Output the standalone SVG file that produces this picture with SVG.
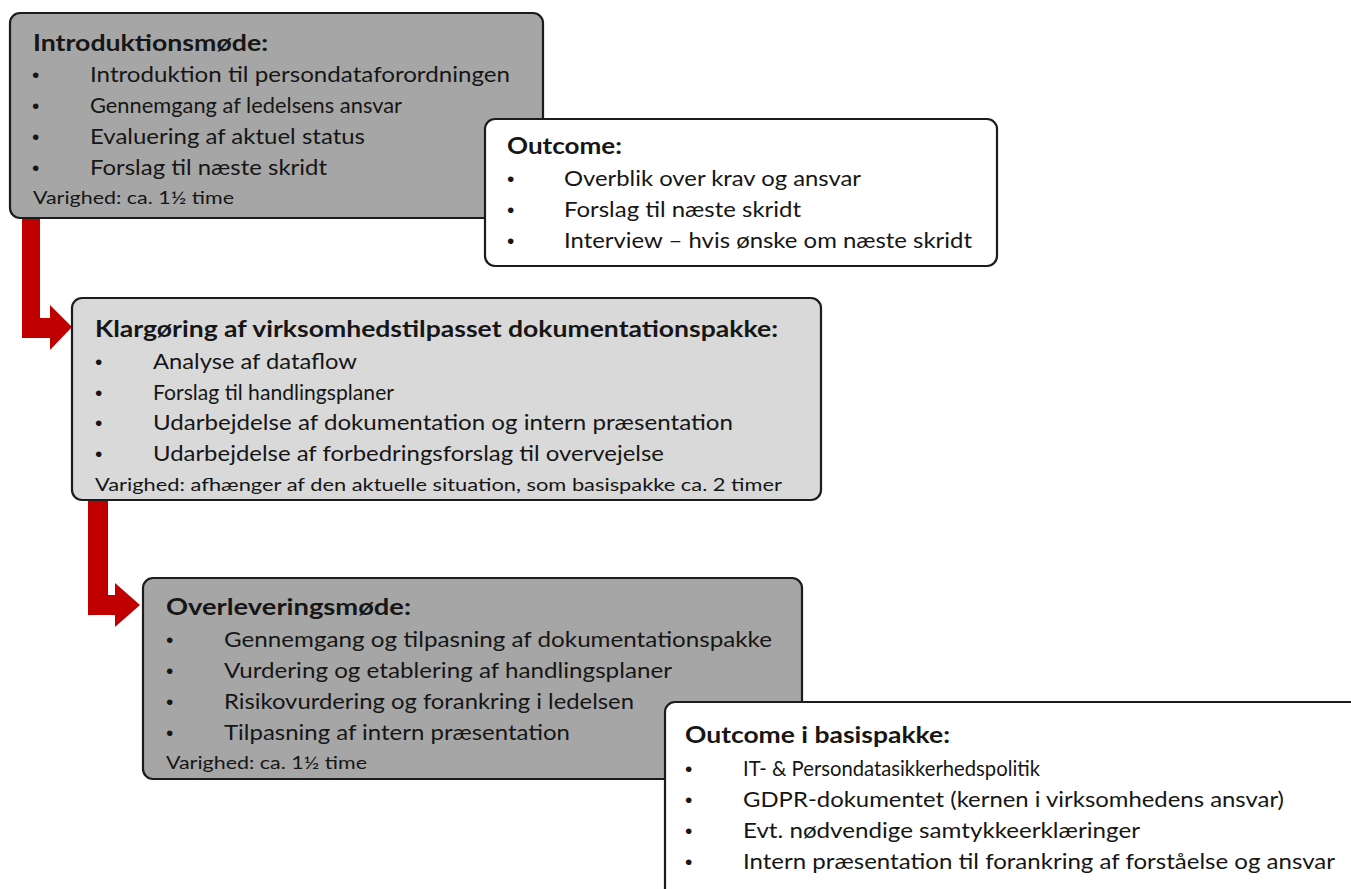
<svg xmlns="http://www.w3.org/2000/svg" width="1351" height="889" viewBox="0 0 1351 889">
<style>
.box{stroke:#1c1c1c;stroke-width:2.2}
.dark{fill:#a6a6a6}
.light{fill:#d9d9d9}
.white{fill:#ffffff}
text{font-family:Lato,"Open Sans","Liberation Sans",sans-serif;fill:#161616}
.t{font-size:23px;font-weight:bold}
.b{font-size:20.5px}
.d{font-size:21px;font-family:"Liberation Sans",sans-serif}
.v{font-size:18px}
.arrow{fill:#c00000}
</style>
<rect width="1351" height="889" fill="#ffffff"/>
<g id="connectors">
<path class="arrow" d="M22,212 L40,212 L40,318 L50,318 L50,305 L72,327 L50,350 L50,338 L22,338 Z"/>
<path class="arrow" d="M88,495 L108,495 L108,595 L115,595 L115,583 L140,605 L115,627 L115,615 L88,615 Z"/>
</g>
<g id="introduktionsmode">
<rect class="box dark" x="10" y="13" width="533" height="205" rx="10"/>
<text class="t" x="33" y="51" textLength="235" lengthAdjust="spacingAndGlyphs">Introduktionsmøde:</text>
<text class="d" x="32" y="82">•</text><text class="b" x="90" y="82" textLength="420" lengthAdjust="spacingAndGlyphs">Introduktion til persondataforordningen</text>
<text class="d" x="32" y="113">•</text><text class="b" x="90" y="113" textLength="312" lengthAdjust="spacingAndGlyphs">Gennemgang af ledelsens ansvar</text>
<text class="d" x="32" y="144">•</text><text class="b" x="90" y="144" textLength="275" lengthAdjust="spacingAndGlyphs">Evaluering af aktuel status</text>
<text class="d" x="32" y="175">•</text><text class="b" x="90" y="175" textLength="237" lengthAdjust="spacingAndGlyphs">Forslag til næste skridt</text>
<text class="v" x="33" y="204" textLength="201" lengthAdjust="spacingAndGlyphs">Varighed: ca. 1½ time</text>
</g>
<g id="outcome">
<rect class="box white" x="485" y="119" width="512" height="147" rx="10"/>
<text class="t" x="507" y="154" textLength="115" lengthAdjust="spacingAndGlyphs">Outcome:</text>
<text class="d" x="507" y="186">•</text><text class="b" x="564" y="186" textLength="297" lengthAdjust="spacingAndGlyphs">Overblik over krav og ansvar</text>
<text class="d" x="507" y="217">•</text><text class="b" x="564" y="217" textLength="237" lengthAdjust="spacingAndGlyphs">Forslag til næste skridt</text>
<text class="d" x="507" y="248">•</text><text class="b" x="564" y="248" textLength="408" lengthAdjust="spacingAndGlyphs">Interview – hvis ønske om næste skridt</text>
</g>
<g id="klargoring">
<rect class="box light" x="72" y="298" width="749" height="202" rx="10"/>
<text class="t" x="95" y="337" textLength="683" lengthAdjust="spacingAndGlyphs">Klargøring af virksomhedstilpasset dokumentationspakke:</text>
<text class="d" x="95" y="369">•</text><text class="b" x="153" y="369" textLength="204" lengthAdjust="spacingAndGlyphs">Analyse af dataflow</text>
<text class="d" x="95" y="400">•</text><text class="b" x="153" y="400" textLength="241" lengthAdjust="spacingAndGlyphs">Forslag til handlingsplaner</text>
<text class="d" x="95" y="430">•</text><text class="b" x="153" y="430" textLength="580" lengthAdjust="spacingAndGlyphs">Udarbejdelse af dokumentation og intern præsentation</text>
<text class="d" x="95" y="461">•</text><text class="b" x="153" y="461" textLength="511" lengthAdjust="spacingAndGlyphs">Udarbejdelse af forbedringsforslag til overvejelse</text>
<text class="v" x="95" y="491" textLength="687" lengthAdjust="spacingAndGlyphs">Varighed: afhænger af den aktuelle situation, som basispakke ca. 2 timer</text>
</g>
<g id="overleveringsmode">
<rect class="box dark" x="143" y="578" width="659" height="201" rx="10"/>
<text class="t" x="166" y="615" textLength="245" lengthAdjust="spacingAndGlyphs">Overleveringsmøde:</text>
<text class="d" x="166" y="647">•</text><text class="b" x="224" y="647" textLength="548" lengthAdjust="spacingAndGlyphs">Gennemgang og tilpasning af dokumentationspakke</text>
<text class="d" x="166" y="678">•</text><text class="b" x="224" y="678" textLength="448" lengthAdjust="spacingAndGlyphs">Vurdering og etablering af handlingsplaner</text>
<text class="d" x="166" y="709">•</text><text class="b" x="224" y="709" textLength="410" lengthAdjust="spacingAndGlyphs">Risikovurdering og forankring i ledelsen</text>
<text class="d" x="166" y="740">•</text><text class="b" x="224" y="740" textLength="346" lengthAdjust="spacingAndGlyphs">Tilpasning af intern præsentation</text>
<text class="v" x="166" y="769" textLength="201" lengthAdjust="spacingAndGlyphs">Varighed: ca. 1½ time</text>
</g>
<g id="outcome-basispakke">
<rect class="box white" x="665" y="702" width="700" height="200" rx="10"/>
<text class="t" x="685" y="743" textLength="265" lengthAdjust="spacingAndGlyphs">Outcome i basispakke:</text>
<text class="d" x="685" y="776">•</text><text class="b" x="743" y="776" textLength="297" lengthAdjust="spacingAndGlyphs">IT- &amp; Persondatasikkerhedspolitik</text>
<text class="d" x="685" y="807">•</text><text class="b" x="743" y="807" textLength="541" lengthAdjust="spacingAndGlyphs">GDPR-dokumentet (kernen i virksomhedens ansvar)</text>
<text class="d" x="685" y="838">•</text><text class="b" x="743" y="838" textLength="397" lengthAdjust="spacingAndGlyphs">Evt. nødvendige samtykkeerklæringer</text>
<text class="d" x="685" y="869">•</text><text class="b" x="743" y="869" textLength="592" lengthAdjust="spacingAndGlyphs">Intern præsentation til forankring af forståelse og ansvar</text>
</g>
</svg>
